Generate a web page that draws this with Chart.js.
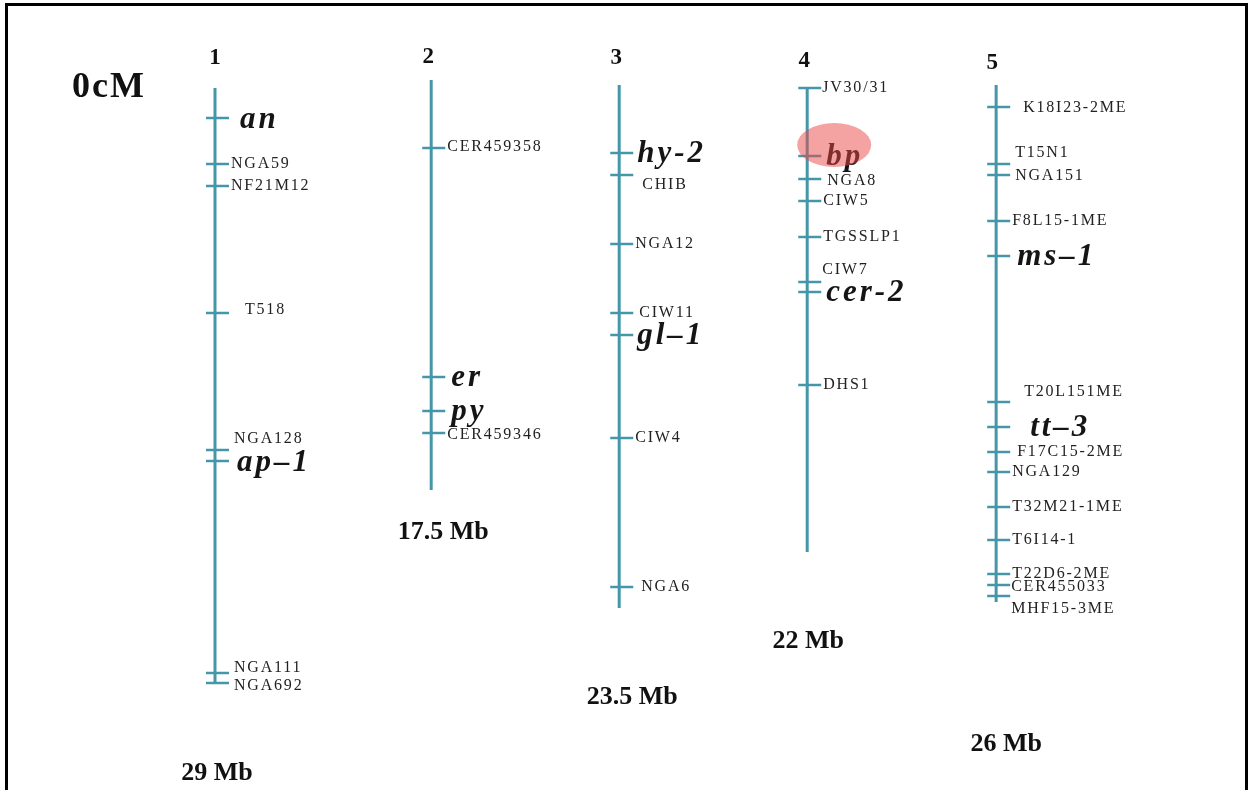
<!DOCTYPE html>
<html>
<head>
<meta charset="utf-8">
<title>Genetic map</title>
<script src="https://cdn.jsdelivr.net/npm/chart.js@4.4.1/dist/chart.umd.min.js"></script>
<style>
  html, body { margin: 0; padding: 0; background: #fff; }
  canvas { display: block; }
</style>
</head>
<body>
<canvas id="mapChart" width="1252" height="790"></canvas>
<script>
// Chromosomes and their physical sizes
const chromosomes = ['1', '2', '3', '4', '5'];
const chromSizes = ['29 Mb', '17.5 Mb', '23.5 Mb', '22 Mb', '26 Mb'];

// Map extent of each chromosome (map units, 0 = top)
const chromStart = [0.6, -1, 0, 0.4, 0];
const chromEnd = [119.6, 81, 104.6, 93.4, 103.4];

// Markers, per chromosome
const chr1Markers = ['an', 'NGA59', 'NF21M12', 'T518', 'NGA128', 'ap–1', 'NGA111', 'NGA692'];
const chr1Pos = [6.6, 15.8, 20.2, 45.6, 73, 75.2, 117.6, 119.6];

const chr2Markers = ['CER459358', 'er', 'py', 'CER459346'];
const chr2Pos = [12.6, 58.4, 65.2, 69.6];

const chr3Markers = ['hy-2', 'CHIB', 'NGA12', 'CIW11', 'gl–1', 'CIW4', 'NGA6'];
const chr3Pos = [13.6, 18, 31.8, 45.6, 50, 70.6, 100.4];

const chr4Markers = ['JV30/31', 'bp', 'NGA8', 'CIW5', 'TGSSLP1', 'CIW7', 'cer-2', 'DHS1'];
const chr4Pos = [0.6, 14.2, 18.8, 23.2, 30.4, 39.4, 41.4, 60];

const chr5Markers = ['K18I23-2ME', 'T15N1', 'NGA151', 'F8L15-1ME', 'ms–1', 'T20L151ME', 'tt–3',
    'F17C15-2ME', 'NGA129', 'T32M21-1ME', 'T6I14-1', 'T22D6-2ME', 'CER455033', 'MHF15-3ME'];
const chr5Pos = [4.4, 15.8, 18, 27.2, 34.2, 63.4, 68.4, 73.4, 77.4, 84.4, 91, 97.8, 100, 102.2];

// Mutant genes (drawn large, italic)
const genes = ['an', 'ap–1', 'er', 'py', 'hy-2', 'gl–1', 'bp', 'cer-2', 'ms–1', 'tt–3'];
const highlighted = 'bp';

// ---- layout only below ----
const colX = [1.0, 2.15, 3.15, 4.15, 5.155];
const numberY = [-5.4, -5.6, -5.4, -4.8, -4.4];
const numberDx = [0, -3, -3, -3, -4];
const sizeY = [137.6, 89.4, 122.4, 111.2, 131.8];
const sizeDx = [2, 12, 13, 1, 10];

// pixel nudges for labels that do not sit at the default spot
const labelNudge = {
    'an': [25, 1], 'T518': [30, -3], 'NGA128': [19, -11], 'ap–1': [22, 1],
    'NGA111': [19, -5], 'NGA692': [19, 3],
    'CER459358': [16, -1], 'CER459346': [16, 2],
    'hy-2': [18, 0], 'CHIB': [23, 10], 'CIW11': [20, 0], 'gl–1': [18, 0], 'NGA6': [22, 0],
    'JV30/31': [15, 0], 'bp': [19, 0], 'NGA8': [20, 2], 'CIW7': [15, -12], 'cer-2': [19, 0],
    'K18I23-2ME': [27, 1], 'T15N1': [19, -11], 'NGA151': [19, 1], 'ms–1': [21, 0],
    'T20L151ME': [28, -10], 'tt–3': [34, 0], 'F17C15-2ME': [21, 0],
    'CER455033': [15, 2], 'MHF15-3ME': [15, 13]
};

const TEAL = '#4496a9';

// tick glyph: a short dash that sticks out more to the right of the chromosome
function makeTick() {
    const c = document.createElement('canvas');
    c.width = 48;
    c.height = 6;
    const g = c.getContext('2d');
    g.strokeStyle = TEAL;
    g.lineWidth = 2.5;
    g.beginPath();
    g.moveTo(24 - 9, 3);
    g.lineTo(24 + 14, 3);
    g.stroke();
    return c;
}
const tickGlyph = makeTick();

const markerSets = [
    [chr1Markers, chr1Pos], [chr2Markers, chr2Pos], [chr3Markers, chr3Pos],
    [chr4Markers, chr4Pos], [chr5Markers, chr5Pos]
];

const datasets = [];
chromosomes.forEach((c, i) => {
    datasets.push({
        kind: 'chrom',
        chrom: i,
        data: [{ x: colX[i], y: chromStart[i] }, { x: colX[i], y: chromEnd[i] }],
        showLine: true,
        borderColor: TEAL,
        borderWidth: 3,
        pointRadius: 0
    });
});
markerSets.forEach(([names, pos], i) => {
    datasets.push({
        kind: 'markers',
        chrom: i,
        names: names,
        data: pos.map(p => ({ x: colX[i], y: p })),
        showLine: false,
        pointStyle: tickGlyph,
        pointRadius: 12
    });
});

const mapLabels = {
    id: 'mapLabels',
    afterDatasetsDraw(chart) {
        const ctx = chart.ctx;
        const xs = chart.scales.x;
        const ys = chart.scales.y;
        ctx.save();

        // frame
        ctx.strokeStyle = '#000';
        ctx.lineWidth = 3;
        ctx.beginPath();
        ctx.moveTo(6.5, 790);
        ctx.lineTo(6.5, 4.5);
        ctx.lineTo(1246.5, 4.5);
        ctx.lineTo(1246.5, 790);
        ctx.stroke();

        // 0cM
        ctx.fillStyle = '#111';
        ctx.textBaseline = 'alphabetic';
        ctx.textAlign = 'left';
        ctx.font = 'bold 36px "Liberation Serif"';
        ctx.letterSpacing = '2px';
        ctx.fillText('0cM', 72, 97);

        // chromosome numbers and sizes
        ctx.textAlign = 'center';
        ctx.textBaseline = 'middle';
        chromosomes.forEach((c, i) => {
            ctx.letterSpacing = '0px';
            ctx.font = 'bold 23px "Liberation Serif"';
            ctx.fillText(c, xs.getPixelForValue(colX[i]) + numberDx[i], ys.getPixelForValue(numberY[i]));
            ctx.font = 'bold 26px "Liberation Serif"';
            ctx.fillText(chromSizes[i], xs.getPixelForValue(colX[i]) + sizeDx[i], ys.getPixelForValue(sizeY[i]));
        });

        // marker labels
        ctx.textAlign = 'left';
        chart.data.datasets.forEach((ds, di) => {
            if (ds.kind !== 'markers') return;
            const meta = chart.getDatasetMeta(di);
            meta.data.forEach((pt, j) => {
                const name = ds.names[j];
                const isGene = genes.includes(name);
                const nudge = labelNudge[name] || [isGene ? 20 : 16, 0];
                const x = pt.x + nudge[0];
                const y = pt.y + nudge[1];
                if (isGene) {
                    ctx.font = 'italic bold 31px "Liberation Serif"';
                    ctx.letterSpacing = '3px';
                    ctx.fillStyle = '#151515';
                    ctx.textBaseline = 'alphabetic';
                    ctx.fillText(name, x, y + 9);
                } else {
                    ctx.font = '16px "Liberation Serif"';
                    ctx.letterSpacing = '1.8px';
                    ctx.fillStyle = '#222';
                    ctx.textBaseline = 'middle';
                    ctx.fillText(name, x, y);
                }
                if (name === highlighted) {
                    ctx.save();
                    ctx.fillStyle = 'rgba(236, 70, 70, 0.5)';
                    ctx.beginPath();
                    ctx.ellipse(pt.x + 27, pt.y - 11, 37, 22, 0, 0, Math.PI * 2);
                    ctx.fill();
                    ctx.restore();
                }
            });
        });
        ctx.restore();
    }
};

new Chart(document.getElementById('mapChart'), {
    type: 'scatter',
    data: { datasets: datasets },
    options: {
        responsive: false,
        devicePixelRatio: 1,
        animation: false,
        events: [],
        layout: { padding: 0, autoPadding: false },
        plugins: {
            legend: { display: false },
            title: { display: false },
            tooltip: { enabled: false }
        },
        scales: {
            x: { type: 'linear', display: false, min: -0.1436, max: 6.516 },
            y: { type: 'linear', display: false, reverse: true, min: -17, max: 141 }
        }
    },
    plugins: [mapLabels]
});
</script>
</body>
</html>
